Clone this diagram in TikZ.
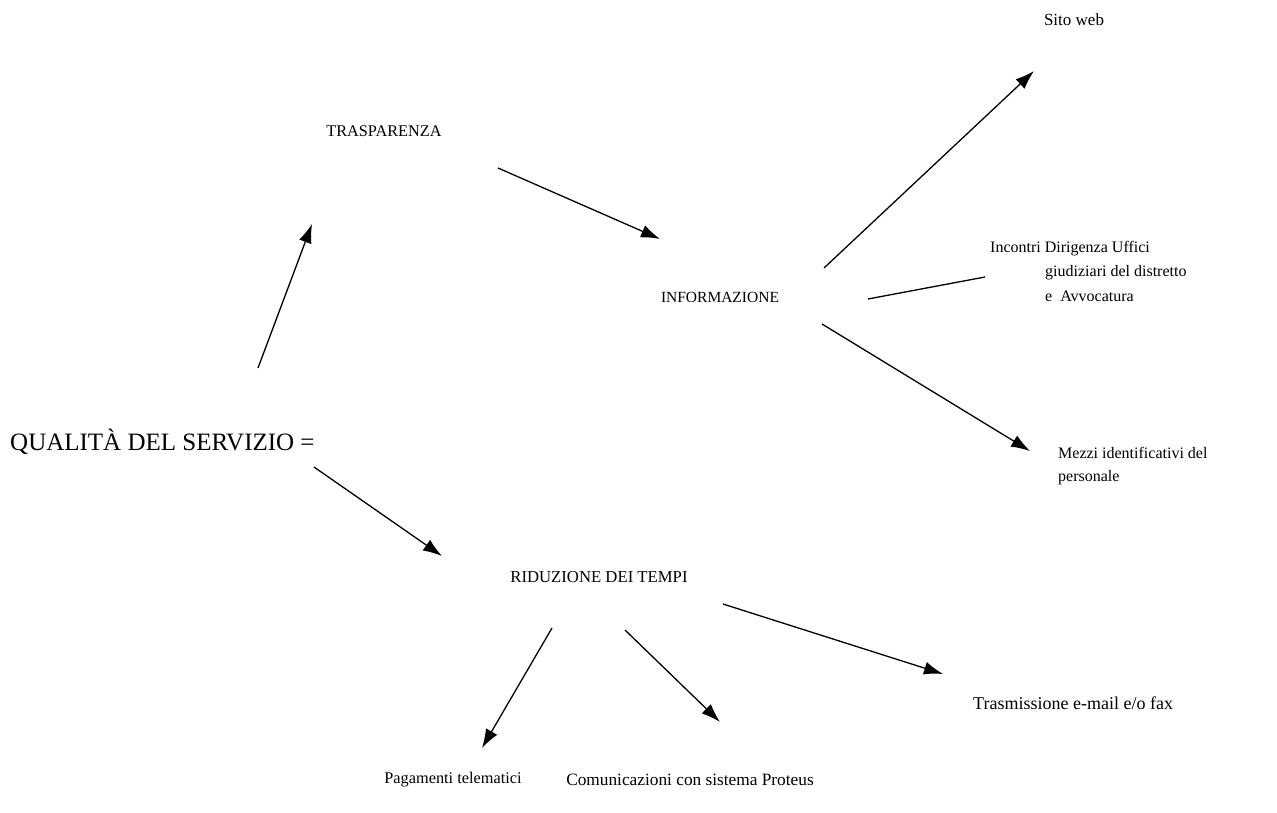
\documentclass[tikz,border=0pt]{standalone}
\usepackage{fontspec}
\setmainfont{Liberation Serif}
\usetikzlibrary{arrows.meta}
\begin{document}
\begin{tikzpicture}[x=1pt,y=-1pt,
  conn/.style={line width=1.3pt,-{Latex[length=19pt,width=13pt]}},
  lbl/.style={inner sep=0pt,font=\fontsize{16}{18}\selectfont},
  big/.style={inner sep=0pt,font=\fontsize{25}{29}\selectfont}]
\useasboundingbox (0,0) rectangle (1277,813);
% nodes
\node[lbl,font=\fontsize{17}{20}\selectfont] (web) at (1074,20) {Sito web};
\node[lbl,font=\fontsize{16.3}{20}\selectfont] (tras) at (384,131) {TRASPARENZA};
\node[lbl,font=\fontsize{15.5}{20}\selectfont] (info) at (720,297) {INFORMAZIONE};
\node[lbl,anchor=west] (inc1) at (990,249) {Incontri Dirigenza Uffici};
\node[lbl,anchor=west] (inc2) at (1045,273) {giudiziari del distretto};
\node[lbl,anchor=west] (inc3) at (1045,296) {e\ \ Avvocatura};
\node[big,anchor=west] (qual) at (10,442) {QUALITÀ DEL SERVIZIO =};
\node[lbl,anchor=west] (mezzi1) at (1058,453) {Mezzi identificativi del};
\node[lbl,anchor=west] (mezzi2) at (1058,478) {personale};
\node[lbl,font=\fontsize{16.7}{20}\selectfont] (rid) at (599,577) {RIDUZIONE DEI TEMPI};
\node[lbl,font=\fontsize{18}{20}\selectfont,anchor=west] (tra) at (973,703) {Trasmissione e-mail e/o fax};
\node[lbl,font=\fontsize{16.3}{20}\selectfont] (pag) at (453,780) {Pagamenti telematici};
\node[lbl,font=\fontsize{17.3}{20}\selectfont] (com) at (690,780) {Comunicazioni con sistema Proteus};
% connector end points
\coordinate (q1) at (258,368); \coordinate (t1) at (312,224);
\coordinate (t2) at (498,168); \coordinate (i1) at (660,239);
\coordinate (i2) at (824,268); \coordinate (w1) at (1034,71);
\coordinate (i3) at (868,299); \coordinate (c1) at (985,277);
\coordinate (i4) at (822,324); \coordinate (m1) at (1030,451);
\coordinate (q2) at (314,467); \coordinate (r1) at (442,556);
\coordinate (r2) at (723,604); \coordinate (e1) at (943,674);
\coordinate (r3) at (552,628); \coordinate (p1) at (482,748);
\coordinate (r4) at (625,630); \coordinate (s1) at (720,722);
% connectors
\draw[conn] (q1) -- (t1);
\draw[conn] (t2) -- (i1);
\draw[conn] (i2) -- (w1);
\draw[line width=1.3pt] (i3) -- (c1);
\draw[conn] (i4) -- (m1);
\draw[conn] (q2) -- (r1);
\draw[conn] (r2) -- (e1);
\draw[conn] (r3) -- (p1);
\draw[conn] (r4) -- (s1);
\end{tikzpicture}
\end{document}
